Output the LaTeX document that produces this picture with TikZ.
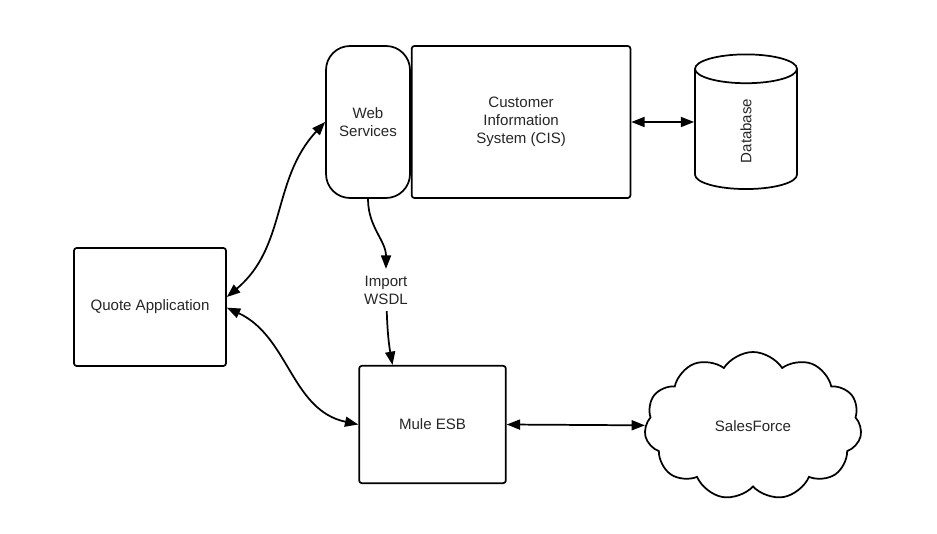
\documentclass[tikz,border=0pt]{standalone}
\usepackage{fontspec}
\setmainfont{Liberation Sans}
\usepackage{tikz}
\usetikzlibrary{positioning, arrows.meta, shapes.geometric, shapes.symbols}

\begin{document}
\begin{tikzpicture}[
    x=0.75pt, y=-0.75pt,
    >={Triangle[length=10pt, width=7.5pt]},
    every node/.style={font=\fontsize{11.3}{13.5}\selectfont, text=black!85},
    box/.style={rectangle, draw, line width=1.3pt, rounded corners=2pt, align=center, inner sep=2pt},
    service/.style={box, rounded corners=18pt},
    store/.style={cylinder, draw, line width=1.3pt, rotate=90, aspect=2.1, inner sep=1pt},
    remote/.style={cloud, draw, line width=1.3pt, cloud puffs=11, cloud puff arc=115, aspect=1.45, inner sep=1pt},
    link/.style={<->, line width=1.3pt},
    feed/.style={->, line width=1.3pt},
]
    \useasboundingbox (0,0) rectangle (937,534);

    % --- systems ---
    \node[service, minimum width=63pt, minimum height=114pt] (ws) at (368,122) {Web\\Services};
    \node[box, minimum width=164pt, minimum height=114pt, right=0pt of ws] (cis) {Customer\\Information\\System (CIS)};
    \node[store, minimum width=76.5pt, minimum height=101pt] (db) at (746,131) {Database};
    \node[box, minimum width=114pt, minimum height=88.5pt] (quote) at (150,307) {Quote Application};
    \node[box, minimum width=110pt, minimum height=88pt] (mule) at (432.5,424.5) {Mule ESB};
    \node[remote, minimum width=163pt, minimum height=111pt] (sf) at (753,426) {SalesForce};
    \node[align=center, inner sep=5pt] (wsdl) at (386,290) {Import\\WSDL};

    % --- arrows ---
    \draw[link] ([yshift=7.5pt]quote.east) to[out=40, in=-133] (ws.west);
    \draw[link] ([yshift=-0.5pt]quote.east) to[out=-25, in=168] (mule.west);
    \draw[link] (cis.east) -- (cis.east -| db.north);
    \draw[link] (mule.east) -- (sf);
    \draw[feed] (ws.south) to[out=-90, in=90] (wsdl);
    \draw[feed] (wsdl) to[out=-88, in=100] ([xshift=-30pt]mule.north);

\end{tikzpicture}
\end{document}
